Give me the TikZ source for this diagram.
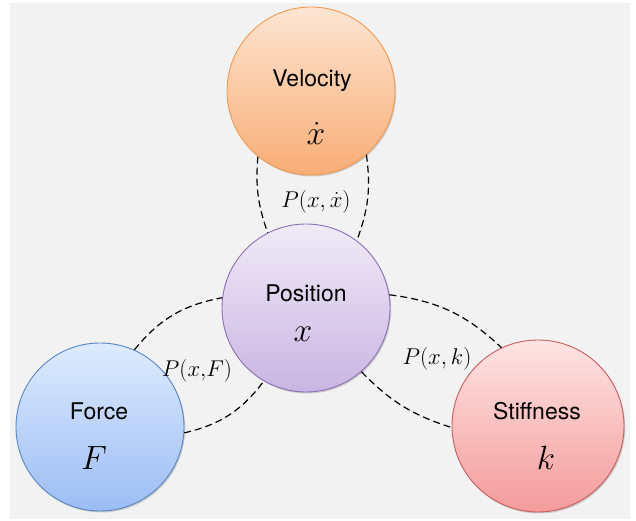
\documentclass[tikz,border=0pt]{standalone}
\usepackage{fontspec}
\setsansfont{TeX Gyre Heros}
\usetikzlibrary{shadows}
\definecolor{bggray}{HTML}{F2F2F2}
\definecolor{velTop}{HTML}{FDE5D2}
\definecolor{velBot}{HTML}{F8AD76}
\definecolor{velLine}{HTML}{F39A50}
\definecolor{posTop}{HTML}{F0EBF7}
\definecolor{posBot}{HTML}{C9B5E2}
\definecolor{posLine}{HTML}{8C70B6}
\definecolor{frcTop}{HTML}{DEEBFD}
\definecolor{frcBot}{HTML}{9CBDF4}
\definecolor{frcLine}{HTML}{5787C4}
\definecolor{stfTop}{HTML}{FEE4E4}
\definecolor{stfBot}{HTML}{F49B9B}
\definecolor{stfLine}{HTML}{C85E5C}
\tikzset{
  ball/.style={circle, minimum size=168pt, inner sep=0pt, line width=0.9pt,
    drop shadow={shadow xshift=1.2pt, shadow yshift=-1.5pt, opacity=0.35}},
  wordlabel/.style={font=\sffamily\fontsize{23}{27}\selectfont, anchor=base, inner sep=0pt},
  varlabel/.style={font=\fontsize{24.88}{30}\selectfont, scale=1.35, anchor=base, inner sep=0pt},
  plabel/.style={font=\fontsize{20.74}{25}\selectfont, scale=1.1, anchor=base, inner sep=0pt},
  link/.style={dash pattern=on 7pt off 4pt, line width=1.2pt, black}
}
\begin{document}
\begin{tikzpicture}[x=1pt,y=1pt]
\useasboundingbox (0,0) rectangle (636,521);
\fill[bggray] (10,2) rectangle (630,518);

% coordinates of circle centres
\coordinate (cv) at (311,430);
\coordinate (cp) at (306,213);
\coordinate (cf) at (100,94);
\coordinate (cs) at (538,95);

% circles
\node[ball, draw=velLine, top color=velTop, bottom color=velBot] (vel) at (cv) {};
\node[ball, draw=posLine, top color=posTop, bottom color=posBot] (pos) at (cp) {};
\node[ball, draw=frcLine, top color=frcTop, bottom color=frcBot] (frc) at (cf) {};
\node[ball, minimum size=172pt, draw=stfLine, top color=stfTop, bottom color=stfBot] (stf) at (cs) {};

% dashed links
\draw[link] (vel.231) to[bend right=12] (pos.117);
\draw[link] (vel.311) to[bend left=14] (pos.53);
\draw[link] (frc.66) to[bend left=20] (pos.173);
\draw[link] (frc.356) to[bend right=20] (pos.240);
\draw[link] (pos.9) to[bend left=18] (stf.115);
\draw[link] (pos.311) to[bend right=14] (stf.181);

% texts
\node[wordlabel] (tv) at ([xshift=1pt,yshift=4pt]cv) {Velocity};
\node[varlabel] (mv) at ([xshift=5pt,yshift=-54pt]cv) {$\dot{x}$};
\node[wordlabel] (tp) at ([xshift=0pt,yshift=6pt]cp) {Position};
\node[varlabel] (mp) at ([xshift=-3pt,yshift=-34pt]cp) {$x$};
\node[wordlabel] (tf) at ([xshift=-1pt,yshift=7pt]cf) {Force};
\node[varlabel] (mf) at ([xshift=-6pt,yshift=-43pt]cf) {$F$};
\node[wordlabel] (ts) at ([xshift=-1pt,yshift=6pt]cs) {Stiffness};
\node[varlabel] (ms) at ([xshift=8pt,yshift=-44pt]cs) {$k$};

\node[plabel] (pv) at (316,313) {$P(x,\dot{x})$};
\node[plabel] (pf) at (197,144) {$P(x{,}F)$};
\node[plabel] (pk) at (437,156) {$P(x,k)$};
\end{tikzpicture}
\end{document}
